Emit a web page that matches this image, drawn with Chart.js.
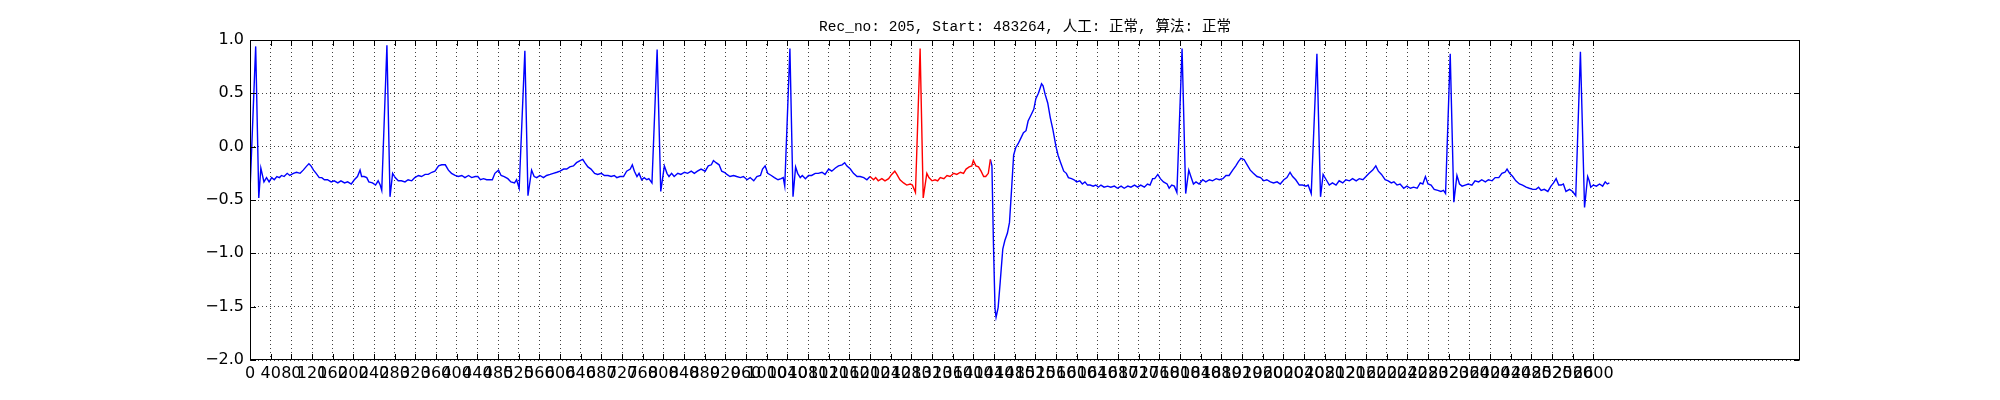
<!DOCTYPE html>
<html><head><meta charset="utf-8">
<script src="https://cdn.jsdelivr.net/npm/chart.js@4.4.0/dist/chart.umd.min.js"></script>
<style>html,body{margin:0;padding:0;background:#fff}#wrap{width:2000px;height:400px}</style>
</head><body><div id="wrap"><canvas id="c" width="2000" height="400"></canvas></div>
<script>
const titleText = "Rec_no: 205, Start: 483264, 人工: 正常, 算法: 正常";

const sampleIndex = [
0,11,17,21,27,32,37,42,47,52,57,61,66,72,77,84,90,97,103,110,114,118,123,128,134,139,144,150,157,163,170,176,183,189,196,202,208,213,216,221,226,230,237,243,248,252,255,265,271,276,281,287,293,300,306,313,319,326,332,339,345,352,358,365,371,378,384,390,397,403,410,416,423,429,436,
441,446,452,458,465,469,474,481,486,492,499,505,512,516,521,532,538,545,550,555,561,568,574,581,587,594,600,607,613,619,626,632,639,644,648,654,660,667,673,680,686,693,699,705,710,716,723,729,736,740,744,749,753,758,763,768,772,778,788,795,802,807,811,816,821,828,834,841,847,854,860,866,873,881,
887,893,897,902,908,913,918,923,929,936,942,949,955,962,968,975,981,988,992,997,1002,1009,1015,1022,1028,1032,1035,1045,1051,1056,1060,1065,1069,1075,1081,1087,1094,1100,1107,1113,1120,1126,1133,1139,1146,1151,1155,1162,1168,1175,1181,1188,1194,1200,
1207,1211,1216,1223,1229,1236,1242,1248,1252,1258,1265,1271,1278,1282,1288,1297,1303,1310,1314,1320,1326,
1331,1336,1343,1349,1355,1362,1368,1375,1381,1386,1392,1397,1400,1405,1410,1415,1420,1424,1429,1433,
1436,1439,1442,1444,1448,1452,1457,1461,1466,1470,1474,1478,1482,1487,1492,1497,1502,1506,1511,1517,1521,1526,1530,1532,1535,1539,1544,1549,1554,1560,1564,1569,1575,1580,1584,1590,1595,1600,1606,1611,1616,1621,1626,1632,1637,1642,1647,1653,1660,1666,1673,1679,1686,1692,1699,1705,1712,1718,1724,1731,1737,1742,1747,1751,1757,1762,1768,
1775,1779,1784,1789,1794,1804,1811,1817,1821,1826,1831,1837,1844,1850,1857,1863,1870,1876,1883,1889,1895,1902,1908,1913,1918,1924,1930,1936,1942,1949,1956,1962,1968,1975,1981,1988,1994,2001,2007,2013,2018,2024,2031,2037,2044,2048,2054,2065,2072,2077,2083,2089,2095,2102,2108,2115,2121,2128,2134,2141,2147,2154,2160,2166,2173,2179,2184,2190,2197,2203,2209,2214,
2220,2226,2233,2239,2246,2252,2259,2265,2270,2275,2280,2286,2292,2299,2305,2310,2314,2323,2330,2336,2341,2346,2352,2358,2365,2371,2378,2384,2391,2397,2404,2410,2417,2423,2429,2433,2438,2444,2450,2457,2463,2470,2476,2483,2489,2494,2499,2505,2512,2518,2523,2528,2533,2538,2542,2547,2554,2560,2566,2575,2583,2589,2592,2595,2600,2606,2612,2618,2623,2627,2631
];

const amplitude = [
-0.42,0.94,-0.48,-0.20,-0.33,-0.29,-0.33,-0.29,-0.31,-0.28,-0.29,-0.27,-0.28,-0.25,-0.27,-0.25,-0.24,-0.25,-0.22,-0.18,-0.16,-0.18,-0.22,-0.25,-0.29,-0.29,-0.31,-0.31,-0.33,-0.32,-0.34,-0.32,-0.34,-0.33,-0.35,-0.31,-0.28,-0.22,-0.28,-0.28,-0.29,-0.33,-0.34,-0.36,-0.32,-0.36,-0.41,0.95,-0.47,-0.25,-0.29,-0.32,-0.32,-0.33,-0.31,-0.32,-0.29,-0.27,-0.28,-0.26,-0.26,-0.24,-0.23,-0.18,-0.17,-0.17,-0.22,-0.25,-0.27,-0.28,-0.27,-0.29,-0.27,-0.29,-0.28,
-0.28,-0.31,-0.30,-0.31,-0.31,-0.31,-0.25,-0.22,-0.27,-0.28,-0.30,-0.33,-0.34,-0.31,-0.39,0.90,-0.46,-0.22,-0.28,-0.29,-0.27,-0.29,-0.27,-0.26,-0.25,-0.24,-0.23,-0.21,-0.21,-0.19,-0.18,-0.15,-0.13,-0.12,-0.15,-0.19,-0.21,-0.25,-0.26,-0.25,-0.27,-0.27,-0.28,-0.27,-0.29,-0.28,-0.28,-0.23,-0.21,-0.17,-0.23,-0.28,-0.25,-0.31,-0.29,-0.31,-0.30,-0.34,0.91,-0.42,-0.18,-0.25,-0.28,-0.25,-0.28,-0.25,-0.26,-0.24,-0.25,-0.23,-0.25,-0.23,-0.21,-0.23,
-0.18,-0.17,-0.13,-0.15,-0.17,-0.23,-0.24,-0.26,-0.28,-0.27,-0.28,-0.29,-0.28,-0.31,-0.29,-0.32,-0.28,-0.27,-0.21,-0.18,-0.25,-0.27,-0.29,-0.31,-0.30,-0.29,-0.37,0.92,-0.47,-0.19,-0.25,-0.29,-0.27,-0.30,-0.27,-0.27,-0.25,-0.25,-0.24,-0.26,-0.21,-0.23,-0.20,-0.18,-0.17,-0.15,-0.18,-0.21,-0.25,-0.28,-0.28,-0.29,-0.31,-0.28,
-0.31,-0.29,-0.32,-0.30,-0.32,-0.30,-0.26,-0.23,-0.26,-0.31,-0.34,-0.36,-0.35,-0.36,-0.43,0.92,-0.48,-0.25,-0.29,-0.32,-0.31,
-0.32,-0.29,-0.30,-0.27,-0.28,-0.25,-0.26,-0.24,-0.25,-0.21,-0.19,-0.18,-0.13,-0.18,-0.19,-0.23,-0.28,-0.28,-0.25,-0.12,
-0.18,-0.93,-1.52,-1.60,-1.51,-1.27,-0.96,-0.88,-0.81,-0.71,-0.40,-0.08,-0.01,0.03,0.08,0.13,0.15,0.24,0.29,0.35,0.45,0.50,0.56,0.59,0.57,0.49,0.41,0.27,0.16,0.00,-0.08,-0.15,-0.23,-0.25,-0.29,-0.30,-0.31,-0.33,-0.32,-0.35,-0.33,-0.36,-0.36,-0.37,-0.36,-0.38,-0.36,-0.38,-0.37,-0.38,-0.37,-0.39,-0.37,-0.39,-0.37,-0.38,-0.36,-0.38,-0.36,-0.38,-0.35,-0.36,-0.30,-0.30,-0.26,-0.30,-0.33,
-0.35,-0.39,-0.36,-0.37,-0.43,0.92,-0.44,-0.22,-0.28,-0.35,-0.33,-0.35,-0.31,-0.33,-0.31,-0.32,-0.30,-0.31,-0.30,-0.27,-0.27,-0.22,-0.18,-0.14,-0.11,-0.12,-0.17,-0.22,-0.25,-0.28,-0.29,-0.32,-0.31,-0.33,-0.34,-0.33,-0.35,-0.31,-0.29,-0.24,-0.28,-0.31,-0.36,-0.36,-0.37,-0.36,-0.44,0.87,-0.47,-0.26,-0.31,-0.36,-0.34,-0.36,-0.32,-0.34,-0.31,-0.32,-0.30,-0.32,-0.30,-0.31,-0.28,-0.25,-0.22,-0.18,-0.23,-0.26,-0.31,-0.32,-0.34,-0.33,
-0.36,-0.35,-0.39,-0.37,-0.39,-0.38,-0.39,-0.34,-0.35,-0.28,-0.35,-0.36,-0.40,-0.41,-0.42,-0.41,-0.44,0.87,-0.52,-0.27,-0.35,-0.37,-0.36,-0.35,-0.36,-0.32,-0.33,-0.31,-0.33,-0.31,-0.32,-0.29,-0.29,-0.25,-0.24,-0.21,-0.25,-0.28,-0.32,-0.35,-0.36,-0.38,-0.39,-0.40,-0.40,-0.38,-0.41,-0.40,-0.42,-0.37,-0.34,-0.30,-0.36,-0.36,-0.35,-0.42,-0.40,-0.42,-0.46,0.89,-0.57,-0.28,-0.32,-0.38,-0.36,-0.37,-0.35,-0.37,-0.33,-0.35,-0.34
];

// segment marked in red (sample index range)
const annotatedStart = 1200;
const annotatedEnd = 1433;

const xTickValues = [0,40,80,120,160,200,240,280,320,360,400,440,480,520,560,600,640,680,720,760,800,840,880,920,960,1000,1040,1080,1120,1160,1200,1240,1280,1320,1360,1400,1440,1480,1520,1560,1600,1640,1680,1720,1760,1800,1840,1880,1920,1960,2000,2040,2080,2120,2160,2200,2240,2280,2320,2360,2400,2440,2480,2520,2560,2600];
const yTickValues = [-2.0,-1.5,-1.0,-0.5,0.0,0.5,1.0];
const yTickLabels = ["\u22122.0","\u22121.5","\u22121.0","\u22120.5","0.0","0.5","1.0"];
const xRange = [0, 3000];
const yRange = [-2.0, 1.0];

const allPoints = sampleIndex.map((s, i) => ({x: s, y: amplitude[i]}));
const redPoints = allPoints.filter(p => p.x >= annotatedStart && p.x <= annotatedEnd);
// blue trace: everything outside the annotated window, with a break inside it
const bluePoints = allPoints.filter(p => p.x <= annotatedStart)
  .concat([{x: (annotatedStart + annotatedEnd) / 2, y: null}])
  .concat(allPoints.filter(p => p.x >= annotatedEnd));

const frameAndTicks = {
  id: 'frameAndTicks',
  afterDraw(chart) {
    const {ctx, chartArea: a, scales} = chart;
    ctx.save();
    ctx.strokeStyle = '#000';
    ctx.lineWidth = 1;
    const L = Math.round(a.left) + 0.5, R = Math.round(a.right) - 0.5;
    const T = Math.round(a.top) + 0.5, B = Math.round(a.bottom) - 0.5;
    const len = 5.5;
    ctx.beginPath();
    xTickValues.forEach(v => {
      const px = Math.round(scales.x.getPixelForValue(v)) + 0.5;
      ctx.moveTo(px, B); ctx.lineTo(px, B - len);
      ctx.moveTo(px, T); ctx.lineTo(px, T + len);
    });
    yTickValues.forEach(v => {
      const py = Math.round(scales.y.getPixelForValue(v)) + 0.5;
      ctx.moveTo(L, py); ctx.lineTo(L + len, py);
      ctx.moveTo(R, py); ctx.lineTo(R - len, py);
    });
    ctx.stroke();
    ctx.strokeRect(L, T, R - L, B - T);
    ctx.restore();
  }
};

new Chart(document.getElementById('c'), {
  type: 'line',
  data: {
    datasets: [
      {data: redPoints, borderColor: '#ff0000', borderWidth: 1.4, pointRadius: 0, tension: 0, fill: false},
      {data: bluePoints, borderColor: '#0000ff', borderWidth: 1.4, pointRadius: 0, tension: 0, fill: false, spanGaps: false}
    ]
  },
  options: {
    responsive: false,
    animation: false,
    devicePixelRatio: 1,
    layout: {padding: {left: 0, right: 200, top: 0, bottom: 0}},
    plugins: {
      legend: {display: false},
      tooltip: {enabled: false},
      title: {
        display: true,
        fullSize: false,
        text: titleText,
        color: '#000',
        font: {family: "'Liberation Mono', 'Noto Sans CJK SC', monospace", size: 14.5, weight: 'normal', lineHeight: 1.2},
        padding: {top: 18, bottom: 4.6}
      }
    },
    scales: {
      x: {
        type: 'linear',
        min: xRange[0], max: xRange[1],
        afterFit: s => { s.height = 40; },
        afterBuildTicks: s => { s.ticks = xTickValues.map(v => ({value: v})); },
        grid: {color: 'rgba(0,0,0,0.75)', lineWidth: 1, drawTicks: false},
        border: {display: false, dash: [1, 3]},
        ticks: {
          autoSkip: false, maxRotation: 0, minRotation: 0, padding: 4,
          color: '#000',
          font: {family: "'DejaVu Sans'", size: 16},
          callback: v => String(v)
        }
      },
      y: {
        type: 'linear',
        min: yRange[0], max: yRange[1],
        afterFit: s => { s.width = 250; },
        afterBuildTicks: s => { s.ticks = yTickValues.map(v => ({value: v})); },
        grid: {color: 'rgba(0,0,0,0.75)', lineWidth: 1, drawTicks: false},
        border: {display: false, dash: [1, 3]},
        ticks: {
          padding: 6,
          color: '#000',
          font: {family: "'DejaVu Sans'", size: 16},
          callback: v => { const i = yTickValues.findIndex(t => Math.abs(t - v) < 1e-9); return i >= 0 ? yTickLabels[i] : ''; }
        }
      }
    }
  },
  plugins: [frameAndTicks]
});
</script>
</body></html>
